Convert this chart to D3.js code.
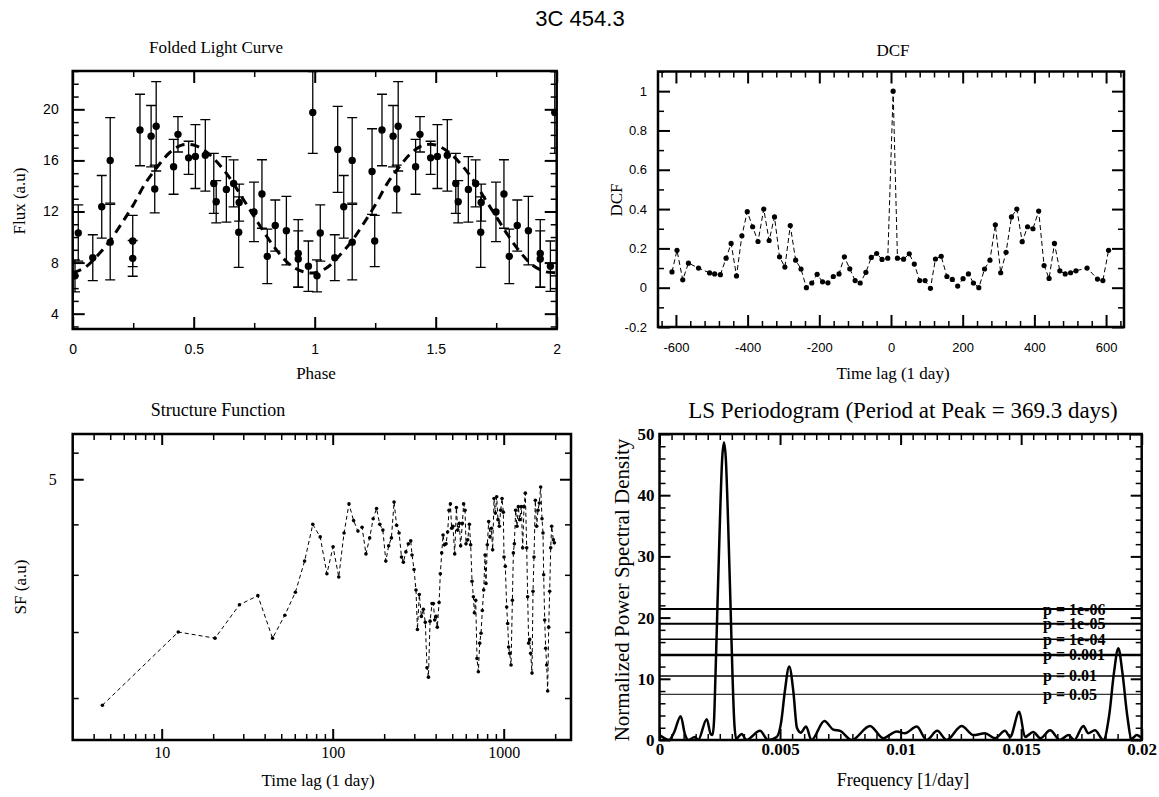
<!DOCTYPE html>
<html><head><meta charset="utf-8">
<script src="https://cdn.jsdelivr.net/npm/d3@7"></script>
<style>body{margin:0;background:#fff}</style>
</head><body>
<svg id="c" width="1159" height="797"></svg>
<script>
// ---------------- DATA ----------------
// Folded light curve (two cycles, phase 0-2)
const lcPhase = [0.0095,0.023,0.083,0.12,0.155,0.155,0.248,0.248,0.278,0.324,0.345,0.339,0.417,0.435,0.479,0.507,0.548,0.583,0.593,0.635,0.665,0.688,0.686,0.749,0.782,0.804,0.837,0.883,0.932,0.932,0.974,0.992,
  1.0095,1.023,1.083,1.095,1.12,1.155,1.155,1.237,1.248,1.278,1.324,1.345,1.339,1.417,1.435,1.479,1.507,1.548,1.583,1.593,1.635,1.665,1.688,1.686,1.749,1.782,1.804,1.837,1.883,1.932,1.932,1.974,1.992];
const lcFlux = [6.96,10.32,8.38,12.37,16.0,9.6,9.69,8.33,18.38,17.9,18.67,13.76,15.5,18.04,16.2,16.3,16.4,14.2,12.76,13.73,14.2,12.7,10.38,11.97,13.37,8.49,10.9,10.5,8.72,8.28,7.72,19.75,
  6.96,10.32,8.38,16.86,12.37,16.0,9.6,15.13,9.69,18.38,17.9,18.67,13.76,15.5,18.04,16.2,16.3,16.4,14.2,12.76,13.73,14.2,12.7,10.38,11.97,13.37,8.49,10.9,10.5,8.72,8.28,7.72,19.75];
const lcErr = [1.25,2.2,1.8,2.45,3.35,2.95,2.0,1.4,2.8,2.4,3.5,1.87,2.15,1.38,1.3,2.5,2.8,2.35,1.65,2.56,1.84,1.45,2.76,2.33,2.68,2.13,2.0,2.68,2.65,2.2,1.97,3.2,
  1.25,2.2,1.8,3.37,2.45,3.35,2.95,3.35,2.0,2.8,2.4,3.5,1.87,2.15,1.38,1.3,2.5,2.8,2.35,1.65,2.56,1.84,1.45,2.76,2.33,2.68,2.13,2.0,2.68,2.65,2.2,1.97,3.2];
// dashed sinusoidal fit
const fitPhase = [0,0.05,0.1,0.15,0.2,0.25,0.3,0.35,0.4,0.45,0.5,0.55,0.6,0.65,0.7,0.75,0.8,0.85,0.9,0.95,
  1.0,1.05,1.1,1.15,1.2,1.25,1.3,1.35,1.4,1.45,1.5,1.55,1.6,1.65,1.7,1.75,1.8,1.85,1.9,1.95,2.0];
const fitFlux = [7.2,7.6,8.5,9.6,11.0,12.5,14.2,15.5,16.6,17.2,17.2,16.7,15.8,14.6,13.1,11.6,10.1,8.8,7.8,7.3,
  7.2,7.6,8.5,9.6,11.0,12.5,14.2,15.5,16.6,17.2,17.2,16.7,15.8,14.6,13.1,11.6,10.1,8.8,7.8,7.3,7.2];

// DCF
const dcfLag = [-611,-597,-581,-565,-537,-506,-492,-476,-460,-446,-431,-416,-401,-386,-371,-355,-340,-325,-311,-296,-281,-266,-251,-236,-221,-206,-191,-176,-161,-145,-130,-115,-100,-86,-70,-55,-40,-25,-9,6,
  18,35,51,65,80,95,110,124,140,156,171,186,201,216,230,245,261,276,291,306,321,336,351,366,381,396,412,427,441,456,471,486,501,516,547,576,591,607];
const dcfVal = [0.08,0.19,0.04,0.125,0.10,0.075,0.07,0.066,0.15,0.225,0.06,0.264,0.387,0.31,0.235,0.40,0.24,0.36,0.157,0.105,0.316,0.14,0.095,0.0,0.024,0.068,0.03,0.025,0.057,0.07,0.157,0.096,0.036,0.024,0.078,0.154,0.174,0.144,0.15,1.0,
  0.15,0.145,0.172,0.12,0.036,0.036,-0.003,0.146,0.16,0.057,0.042,0.008,0.046,0.07,0.024,0.0,0.095,0.14,0.32,0.076,0.18,0.36,0.40,0.234,0.31,0.30,0.39,0.113,0.047,0.225,0.086,0.07,0.076,0.086,0.10,0.044,0.036,0.19];

// Structure function
const sfLag = [4.5,12.5,20.5,28.5,36.5,44.5,52.5,60.5,68.5,76.5,84.5,92.5,100.5,108.5,116.5,124.5,132.5,140.5,148.5,156.5,164.5,172.5,180.5,188.5,196.5,204.5,212.5,220.5,228.5,236.5,244.5,252.5,
  259,268,277,286,291,299,307,313,321,330,339,348,356,363,371,381,388,395,402,409,419,426,434,442,450,460,470,479,488,496,505,517,529,538,550,560,573,583,594,602,616,630,641,653,665,674,686,698,711,724,
  737,750,764,778,788,802,817,832,847,862,878,894,910,926,943,960,978,995,1004,1022,1041,1055,1069,1084,1104,1124,1139,1154,1175,1196,1218,1240,1268,1291,1315,1338,1363,1381,1400,1419,
  1438,1464,1484,1504,1531,1559,1587,1616,1645,1675,1698,1713,1737,1760,1784,1808,1833,1857,1883,1908,1951,1978];
const sfVal = [2.95,3.50,3.45,3.73,3.81,3.45,3.64,3.84,4.13,4.50,4.37,4.01,4.27,3.98,4.41,4.72,4.54,4.43,4.47,4.20,4.36,4.56,4.67,4.50,4.44,4.13,4.28,4.36,4.74,4.49,4.41,4.17,
  4.12,4.22,4.30,4.33,4.19,4.05,3.86,3.52,3.82,3.63,3.69,3.58,3.22,3.15,3.59,3.74,3.74,3.60,3.63,3.54,3.75,4.01,4.21,4.39,4.29,4.30,4.42,4.65,4.72,4.46,4.48,4.20,4.68,4.44,4.51,4.28,4.51,4.72,4.65,4.30,4.34,4.50,4.29,3.94,3.80,3.66,3.77,3.29,3.19,3.41,
  3.49,3.68,3.86,4.19,3.92,4.29,4.53,4.37,4.46,4.24,4.78,4.62,4.80,4.55,4.48,4.65,4.78,4.63,4.17,4.08,3.71,3.57,3.38,3.33,3.24,3.77,4.21,4.30,4.65,4.48,4.69,4.55,4.69,4.26,4.69,4.84,4.26,3.80,3.41,3.44,
  3.33,3.18,3.85,4.17,4.76,4.48,4.65,4.73,4.91,4.56,4.41,4.00,3.60,3.37,3.24,3.05,3.54,3.85,4.26,4.48,4.34,4.31];

// LS periodogram
const lsFreq = [0,0.0002,0.0004,0.0006,0.00088,0.00105,0.0012,0.00147,0.0016,0.00196,0.00212,0.0022,0.00226,0.00232,0.0024,0.0025,0.0026,0.002675,0.00275,0.00285,0.00295,0.00303,0.0031,0.00318,
  0.00341,0.0036,0.00417,0.0045,0.00486,0.00505,0.0052,0.00538,0.00555,0.0057,0.00586,0.00608,0.0063,0.00684,0.00721,0.00749,0.00797,0.00873,0.00928,0.00984,0.01018,0.01067,0.01108,0.01152,0.01191,
  0.01253,0.01302,0.0135,0.01392,0.01433,0.01454,0.01492,0.01516,0.0155,0.0158,0.0162,0.01661,0.01696,0.0172,0.01758,0.01778,0.01806,0.01841,0.01865,0.01885,0.01903,0.0192,0.0194,0.01958,0.0198,0.02];
const lsPower = [0.8,0.3,0.0,1.2,3.9,1.0,0.0,0.5,0.0,3.4,1.0,0.8,3.0,10.3,21.4,35,46,48.6,46,35,21.4,10.3,3.0,0.2,
  1.0,0.0,1.5,0.0,0.5,3.0,8.0,12.0,8.0,2.0,1.2,2.2,0.0,3.1,1.7,1.5,0.0,2.3,0.3,1.4,1.1,2.2,0.0,1.5,0.0,
  2.3,0.8,1.1,0.3,1.5,0.5,4.6,0.5,1.3,0.3,1.6,0.0,0.8,0.0,2.3,1.1,1.6,0.0,4.0,11,15,11,4.0,0.2,0.8,0.3];
const sigLevels = [21.4,19.0,16.45,13.9,10.46,7.47];
const sigLabels = ["p = 1e-06","p = 1e-05","p = 1e-04","p = 0.001","p = 0.01","p = 0.05"];
const sigWidths = [2,2,1.5,2.5,1.5,1];

// tick labels
const tlXTicks = [0,0.5,1,1.5,2];
const tlYTicks = [4,8,12,16,20];
const dcfXTicks = [-600,-400,-200,0,200,400,600];
const dcfYTicks = [-0.2,0,0.2,0.4,0.6,0.8,1];
const sfXTicks = [10,100,1000];
const sfYTicks = [5];
const lsXTicks = [0,0.005,0.01,0.015,0.02];
const lsYTicks = [0,10,20,30,40,50];

// ---------------- DRAW ----------------
const svg = d3.select("#c");
const serif = "'Liberation Serif','Times New Roman',serif";
const sans = "'Liberation Sans',Arial,sans-serif";

function txt(x, y, s, o = {}) {
  svg.append("text").attr("x", x).attr("y", y).text(s)
    .attr("text-anchor", o.a || "middle").attr("dominant-baseline", "central")
    .attr("font-family", o.f || serif).attr("font-size", o.s || 17)
    .attr("font-weight", o.w || "normal")
    .attr("transform", o.r ? `rotate(-90,${x},${y})` : null);
}

function drawAxes(x, y, o) {
  const g = svg.append("g");
  const [xa, xb] = x.range(); const [ya, yb] = y.range();
  const notIn = (arr, M) => arr.filter(v => !M.some(m => Math.abs(m - v) < 1e-9 * Math.max(1, Math.abs(v))));
  const sides = [[d3.axisBottom, x, `translate(0,${ya})`, true], [d3.axisTop, x, `translate(0,${yb})`, false],
                 [d3.axisLeft, y, `translate(${xa},0)`, true], [d3.axisRight, y, `translate(${xb},0)`, false]];
  sides.forEach(([fn, sc, tr, lab]) => {
    const isX = sc === x;
    const major = isX ? o.xMajor : o.yMajor;
    const minor = notIn(isX ? o.xMinor : o.yMinor, major);
    const gm = g.append("g").attr("transform", tr)
      .call(fn(sc).tickValues(minor).tickSize(-o.minorLen).tickFormat(""));
    gm.select(".domain").remove(); gm.selectAll("line").attr("stroke-width", 1.5);
    const gM = g.append("g").attr("transform", tr)
      .call(fn(sc).tickValues(major).tickSize(-o.majorLen).tickPadding(isX ? o.xPad : o.yPad)
        .tickFormat(lab ? (d => String(d)) : ""));
    gM.select(".domain").remove(); gM.selectAll("line").attr("stroke-width", 2);
    gM.attr("font-family", o.font).attr("font-size", o.fontSize).attr("font-weight", o.fontWeight || "normal");
  });
  g.append("rect").attr("x", xa).attr("y", yb).attr("width", xb - xa).attr("height", ya - yb)
    .attr("fill", "none").attr("stroke", "#000").attr("stroke-width", 2.5);
}

function clip(id, x, y) {
  const [xa, xb] = x.range(); const [ya, yb] = y.range();
  svg.append("clipPath").attr("id", id).append("rect").attr("x", xa).attr("y", yb).attr("width", xb - xa).attr("height", ya - yb);
  return `url(#${id})`;
}

// ---- Panel 1: Folded light curve ----
{
  const x = d3.scaleLinear().domain([0, 2]).range([72.7, 556.7]);
  const y = d3.scaleLinear().domain([2.8, 23]).range([329, 71]);
  const cp = clip("c1", x, y);
  const g = svg.append("g").attr("clip-path", cp);
  const idx = d3.range(lcPhase.length);
  g.selectAll(".eb").data(idx).join("path")
    .attr("d", i => { const px = x(lcPhase[i]), t = y(lcFlux[i] + lcErr[i]), b = y(lcFlux[i] - lcErr[i]);
      return `M${px},${t}V${b}M${px - 5},${t}H${px + 5}M${px - 5},${b}H${px + 5}`; })
    .attr("stroke", "#000").attr("stroke-width", 1.3).attr("fill", "none");
  g.append("path").datum(d3.range(fitPhase.length))
    .attr("d", d3.line().x(i => x(fitPhase[i])).y(i => y(fitFlux[i])).curve(d3.curveCatmullRom))
    .attr("fill", "none").attr("stroke", "#000").attr("stroke-width", 3).attr("stroke-dasharray", "9,6");
  g.selectAll(".pt").data(idx).join("circle")
    .attr("cx", i => x(lcPhase[i])).attr("cy", i => y(lcFlux[i])).attr("r", 3.7).attr("fill", "#000");
  drawAxes(x, y, { xMajor: tlXTicks, xMinor: d3.range(0, 2.01, 0.25), yMajor: tlYTicks,
    yMinor: d3.range(3, 23.01, 1), majorLen: 12, minorLen: 6, xPad: 15, yPad: 14, font: sans, fontSize: 14 });
  txt(216, 47, "Folded Light Curve");
  txt(316, 373, "Phase");
  txt(19, 201, "Flux (a.u)", { r: true });
}

// ---- Panel 2: DCF ----
{
  const x = d3.scaleLinear().domain([-650, 650]).range([658, 1124]);
  const y = d3.scaleLinear().domain([-0.2, 1.1]).range([327, 71.5]);
  const idx = d3.range(dcfLag.length);
  svg.append("path").datum(idx)
    .attr("d", d3.line().x(i => x(dcfLag[i])).y(i => y(dcfVal[i])))
    .attr("fill", "none").attr("stroke", "#000").attr("stroke-width", 1).attr("stroke-dasharray", "5,3");
  svg.selectAll(".dp").data(idx).join("circle")
    .attr("cx", i => x(dcfLag[i])).attr("cy", i => y(dcfVal[i])).attr("r", 2.6).attr("fill", "#000");
  drawAxes(x, y, { xMajor: dcfXTicks, xMinor: d3.range(-640, 641, 40), yMajor: dcfYTicks,
    yMinor: d3.range(-2, 12).map(k => k / 10), majorLen: 12, minorLen: 6, xPad: 16, yPad: 11, font: sans, fontSize: 13 });
  txt(893, 50, "DCF");
  txt(893, 373, "Time lag (1 day)");
  txt(616, 200, "DCF", { r: true });
}

// ---- Panel 3: Structure function ----
{
  const x = d3.scaleLog().domain([3.017, 2475]).range([72.7, 571]);
  const y = d3.scaleLog().domain([2.72, 5.557]).range([740, 434]);
  const idx = d3.range(sfLag.length);
  svg.append("path").datum(idx)
    .attr("d", d3.line().x(i => x(sfLag[i])).y(i => y(sfVal[i])))
    .attr("fill", "none").attr("stroke", "#000").attr("stroke-width", 1).attr("stroke-dasharray", "4,3");
  svg.selectAll(".sp").data(idx).join("circle")
    .attr("cx", i => x(sfLag[i])).attr("cy", i => y(sfVal[i])).attr("r", 1.8).attr("fill", "#000");
  const xMinor = [4,5,6,7,8,9,20,30,40,50,60,70,80,90,200,300,400,500,600,700,800,900,2000];
  drawAxes(x, y, { xMajor: sfXTicks, xMinor: xMinor, yMajor: sfYTicks,
    yMinor: [3, 3.5, 4, 4.5, 5.32], majorLen: 11, minorLen: 6, xPad: 7, yPad: 16, font: serif, fontSize: 16 });
  txt(218, 410, "Structure Function", { s: 18 });
  txt(318, 780, "Time lag (1 day)");
  txt(20, 587, "SF (a.u)", { r: true });
}

// ---- Panel 4: LS periodogram ----
{
  const x = d3.scaleLinear().domain([0, 0.02]).range([659.5, 1141.7]);
  const y = d3.scaleLinear().domain([0, 50]).range([740, 434]);
  const cp = clip("c4", x, y);
  const g = svg.append("g").attr("clip-path", cp);
  g.selectAll(".sig").data(sigLevels).join("line")
    .attr("x1", x(0)).attr("x2", x(0.02)).attr("y1", d => y(d)).attr("y2", d => y(d))
    .attr("stroke", "#000").attr("stroke-width", (d, i) => sigWidths[i]);
  g.append("path").datum(d3.range(lsFreq.length))
    .attr("d", d3.line().x(i => x(lsFreq[i])).y(i => y(lsPower[i])).curve(d3.curveMonotoneX))
    .attr("fill", "none").attr("stroke", "#000").attr("stroke-width", 2.5);
  drawAxes(x, y, { xMajor: lsXTicks, xMinor: d3.range(0, 0.02001, 0.0005), yMajor: lsYTicks,
    yMinor: d3.range(0, 50.1, 2), majorLen: 11, minorLen: 6, xPad: 3, yPad: 5, font: serif, fontSize: 17, fontWeight: "bold" });
  sigLevels.forEach((v, i) => txt(1043, y(v), sigLabels[i], { a: "start", s: 16, w: "bold" }));
  txt(903, 410, "LS Periodogram (Period at Peak = 369.3 days)", { s: 23 });
  txt(903, 780, "Frequency [1/day]", { s: 18 });
  txt(622, 590, "Normalized Power Spectral Density", { r: true, s: 21 });
}

txt(580, 18, "3C 454.3", { f: sans, s: 22 });
</script>
</body></html>
